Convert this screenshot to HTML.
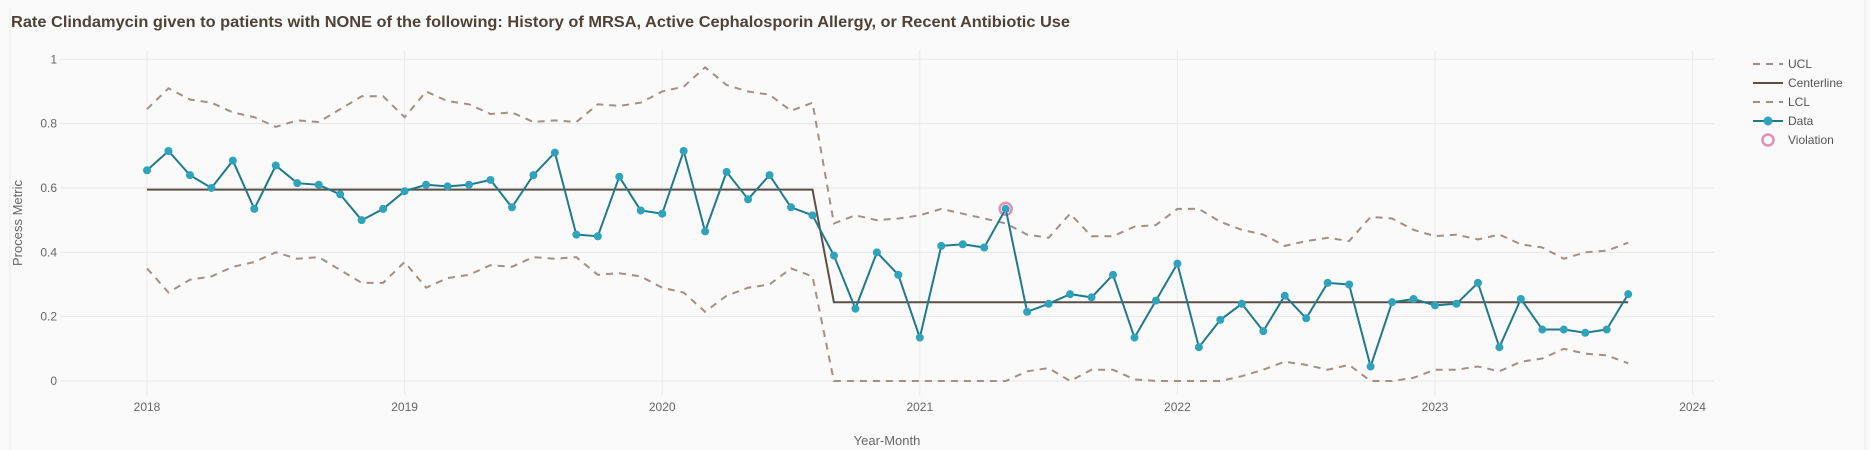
<!DOCTYPE html>
<html><head><meta charset="utf-8"><style>
body{margin:0;background:#fafafa;}
svg{display:block;font-family:"Liberation Sans",sans-serif;}
</style></head><body>
<svg id="chart" width="1870" height="450" viewBox="0 0 1870 450">
<rect x="0" y="0" width="1870" height="450" fill="#fafafa"/>
<line x1="10" y1="8" x2="10" y2="450" stroke="#ececec"/>
<line x1="1865" y1="0" x2="1865" y2="450" stroke="#ececec"/>
<text x="11" y="27" font-size="15.5" font-weight="bold" fill="#4f4237" textLength="1059" lengthAdjust="spacingAndGlyphs">Rate Clindamycin given to patients with NONE of the following: History of MRSA, Active Cephalosporin Allergy, or Recent Antibiotic Use</text>
<g id="grid"></g>
<g id="series"></g>
<text x="887" y="445" font-size="13" fill="#666" text-anchor="middle">Year-Month</text>
<text transform="translate(22,223) rotate(-90)" font-size="13" fill="#666" text-anchor="middle">Process Metric</text>
<g id="legend" font-size="12" fill="#555">
<g><line x1="1753" y1="64" x2="1783" y2="64" stroke="#a09088" stroke-width="2" stroke-dasharray="7,6"/><text x="1788" y="68">UCL</text></g>
<g><line x1="1753" y1="83" x2="1783" y2="83" stroke="#5c4f47" stroke-width="2"/><text x="1788" y="87">Centerline</text></g>
<g><line x1="1753" y1="102" x2="1783" y2="102" stroke="#a09088" stroke-width="2" stroke-dasharray="7,6"/><text x="1788" y="106">LCL</text></g>
<g><line x1="1753" y1="121" x2="1783" y2="121" stroke="#1f7a8c" stroke-width="2"/><circle cx="1768" cy="121" r="4.5" fill="#2ea3bb"/><text x="1788" y="125">Data</text></g>
<g><circle cx="1768" cy="140" r="5.5" fill="none" stroke="#e48fb2" stroke-width="2.5"/><text x="1788" y="144">Violation</text></g>
</g>
</svg>
<script>
const yTicks=[0,0.2,0.4,0.6,0.8,1];
const yTickLabels=["0","0.2","0.4","0.6","0.8","1"];
const xTickYears=[2018,2019,2020,2021,2022,2023,2024];
const dataValues=[.655,.715,.64,.60,.685,.535,.67,.615,.61,.58,.50,.535,
.59,.61,.605,.61,.625,.54,.64,.71,.455,.45,.635,.53,
.52,.715,.465,.65,.565,.64,.54,.515,.39,.225,.40,.33,
.135,.42,.425,.415,.535,.215,.24,.27,.26,.33,.135,.25,
.365,.105,.19,.24,.155,.265,.195,.305,.30,.045,.245,.255,
.235,.24,.305,.105,.255,.16,.16,.15,.16,.27];
const centerValues=[];
for(let i=0;i<70;i++)centerValues.push(i<32?0.595:0.245);
const uclValues=[.845,.91,.875,.865,.835,.82,.79,.81,.805,.845,.885,.885,
.82,.90,.87,.86,.83,.835,.805,.81,.805,.86,.855,.865,
.90,.915,.975,.92,.90,.89,.84,.865,.49,.515,.50,.505,
.515,.535,.52,.505,.49,.455,.445,.52,.45,.45,.48,.485,
.535,.535,.495,.47,.455,.42,.435,.445,.435,.51,.505,.47,
.45,.455,.44,.455,.425,.415,.38,.40,.405,.43];
const lclValues=[.35,.275,.315,.325,.355,.37,.40,.38,.385,.345,.305,.305,
.37,.29,.32,.33,.36,.355,.385,.38,.385,.33,.335,.325,
.29,.275,.215,.265,.29,.30,.35,.325,0,0,0,0,
0,0,0,0,0,.03,.04,0,.035,.035,.005,0,
0,0,0,.015,.035,.06,.05,.035,.05,0,0,.01,
.035,.035,.045,.03,.06,.07,.10,.085,.08,.055];
const violationIdx=[40];

const NS="http://www.w3.org/2000/svg";
const X0=147,YEARW=257.6,Y0=381,Y1=59.3;
function xMonth(i){return X0+i*YEARW/12;}
function xYear(y){return X0+(y-2018)*YEARW;}
function yVal(v){return Y0+(Y1-Y0)*v;}
function mk(tag,attrs,parent){const e=document.createElementNS(NS,tag);for(const k in attrs)e.setAttribute(k,attrs[k]);parent.appendChild(e);return e;}
const grid=document.getElementById('grid'),ser=document.getElementById('series');
yTicks.forEach((t,i)=>{
  const l=mk('line',{x1:60,x2:1714,y1:yVal(t),y2:yVal(t),stroke:'#e8e8e8'},grid);
  
  
  const tx=mk('text',{x:57,y:yVal(t)+4,'font-size':12,fill:'#666','text-anchor':'end'},grid);
  tx.textContent=yTickLabels[i];
  
  
});
xTickYears.forEach(y=>{
  const l=mk('line',{x1:xYear(y),x2:xYear(y),y1:50,y2:395,stroke:'#ececec'},grid);
  
  
  const tx=mk('text',{x:xYear(y),y:411,'font-size':12,fill:'#666','text-anchor':'middle'},grid);
  tx.textContent=String(y);
  
  
});
function pts(arr){return arr.map((v,i)=>xMonth(i).toFixed(1)+','+yVal(v).toFixed(1)).join(' ');}
const u=mk('polyline',{points:pts(uclValues),fill:'none',stroke:'#a09088','stroke-width':2,'stroke-dasharray':'7,6'},ser);


const lc=mk('polyline',{points:pts(lclValues),fill:'none',stroke:'#a09088','stroke-width':2,'stroke-dasharray':'7,6'},ser);


const c=mk('polyline',{points:pts(centerValues),fill:'none',stroke:'#5c4f47','stroke-width':2},ser);


violationIdx.forEach(i=>{
  const v=mk('circle',{cx:xMonth(i),cy:yVal(dataValues[i]),r:6,fill:'none',stroke:'#e48fb2','stroke-width':2.5},ser);
  
  
});
const d=mk('polyline',{points:pts(dataValues),fill:'none',stroke:'#1f7a8c','stroke-width':2},ser);


dataValues.forEach((v,i)=>{
  const p=mk('circle',{cx:xMonth(i),cy:yVal(v),r:4,fill:'#2ea3bb'},ser);
  
  
});
</script>
</body></html>
